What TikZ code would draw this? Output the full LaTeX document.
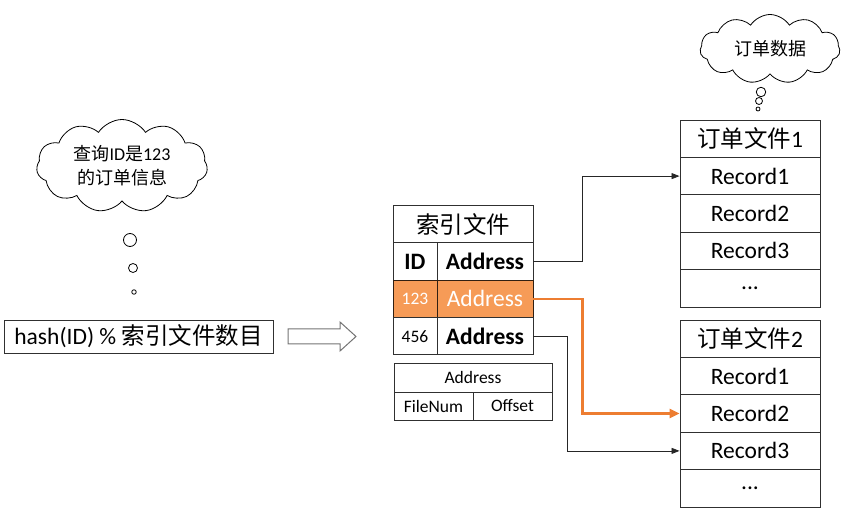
\documentclass[tikz,border=0pt]{standalone}
\usepackage{fontspec}
\setmainfont{Carlito}
\newfontfamily\cjk{Noto Sans CJK SC}
\usetikzlibrary{shapes.symbols,arrows.meta}
\definecolor{rowfill}{HTML}{F69B57}
\definecolor{orline}{HTML}{ED7D31}
\definecolor{bordc}{HTML}{303030}
\tikzset{
  cell/.style={draw=bordc,line width=0.9pt,inner sep=0pt,minimum height=37.4pt,anchor=center},
  bigtxt/.style={font=\fontsize{23.5}{27}\selectfont},
  smalltxt/.style={font=\fontsize{17.5}{20}\selectfont},
  cloudtxt/.style={font=\fontsize{18}{24}\selectfont,align=center},
  thought/.style={cloud,draw=black,line width=0.8pt,cloud puffs=11,cloud puff arc=115,cloud ignores aspect,inner sep=0pt},
  bubble/.style={circle,draw=black,line width=0.8pt,inner sep=0pt},
  conn/.style={draw=black!85,line width=0.8pt,-{Triangle[length=8pt,width=6pt]}},
  oconn/.style={draw=orline,line width=2.4pt,-{Triangle[length=10pt,width=9pt]}},
}
\begin{document}
\begin{tikzpicture}[x=1pt,y=-1pt]
\useasboundingbox (0,0) rectangle (846,510);

% left cloud
\node[thought,minimum width=171pt,minimum height=93pt] (c1) at (122,166) {};
\node[cloudtxt] (c1t) at (c1.center) {{\cjk 查询}ID{\cjk 是}123\\{\cjk 的订单信息}};
\node[bubble,minimum size=13pt] (b11) at (130,240) {};
\node[bubble,minimum size=9pt] (b12) at (133,268) {};
\node[bubble,minimum size=4.5pt] (b13) at (134,292) {};

% right cloud
\node[thought,minimum width=140pt,minimum height=69pt] (c2) at (770,49) {};
\node[cloudtxt] (c2t) at (c2.center) {\cjk 订单数据};
\node[bubble,minimum size=9.5pt] (b21) at (761,92) {};
\node[bubble,minimum size=7pt] (b22) at (759,101) {};
\node[bubble,minimum size=4pt] (b23) at (758,109) {};

% hash box
\node[cell,bigtxt,minimum width=269pt,minimum height=33pt] (hash) at (138.5,336.5) {hash(ID) \% {\cjk 索引文件数目}};

% hollow arrow
\draw[draw=black!55,line width=1pt] (288,329) -- (340,329) -- (340,322) -- (356,336.5) -- (340,351) -- (340,344) -- (288,344) -- cycle;

% index table
\node[cell,bigtxt,minimum width=140pt] (ih) at (463,224) {\cjk 索引文件};
\node[cell,bigtxt,minimum width=44pt] (iid) at (415,261.4) {\textbf{ID}};
\node[cell,bigtxt,minimum width=96pt] (a1) at (485,261.4) {\textbf{Address}};
\node[cell,smalltxt,minimum width=44pt,fill=rowfill,text=white,draw=black!80!rowfill] (i123) at (415,298.8) {123};
\node[cell,bigtxt,minimum width=96pt,fill=rowfill,text=white,draw=black!80!rowfill] (a2) at (485,298.8) {Address};
\node[cell,smalltxt,minimum width=44pt] (i456) at (415,336.2) {456};
\node[cell,bigtxt,minimum width=96pt] (a3) at (485,336.2) {\textbf{Address}};

% address table
\node[cell,smalltxt,minimum width=158pt,minimum height=29pt] (ah) at (473,377.5) {Address};
\node[cell,smalltxt,minimum width=79pt,minimum height=28pt] (af) at (433.5,406) {FileNum};
\node[cell,smalltxt,minimum width=79pt,minimum height=28pt] (ao) at (512.5,406) {Offset};

% file 1
\node[cell,bigtxt,minimum width=140pt] (f1h) at (750,138.7) {{\cjk 订单文件}1};
\node[cell,bigtxt,minimum width=140pt] (f1r1) at (750,176.1) {Record1};
\node[cell,bigtxt,minimum width=140pt] (f1r2) at (750,213.5) {Record2};
\node[cell,bigtxt,minimum width=140pt] (f1r3) at (750,250.9) {Record3};
\node[cell,bigtxt,minimum width=140pt] (f1r4) at (750,288.3) {...};

% file 2
\node[cell,bigtxt,minimum width=140pt] (f2h) at (750,338.7) {{\cjk 订单文件}2};
\node[cell,bigtxt,minimum width=140pt] (f2r1) at (750,376.1) {Record1};
\node[cell,bigtxt,minimum width=140pt] (f2r2) at (750,413.5) {Record2};
\node[cell,bigtxt,minimum width=140pt] (f2r3) at (750,450.9) {Record3};
\node[cell,bigtxt,minimum width=140pt] (f2r4) at (750,488.3) {...};

% connectors
\draw[conn] (a1.east) -- ++(49,0) |- (f1r1.west);
\draw[conn] (a3.east) -- ++(34,0) |- (f2r3.west);
\draw[oconn] (a2.east) -- ++(49,0) |- (f2r2.west);
\end{tikzpicture}
\end{document}
